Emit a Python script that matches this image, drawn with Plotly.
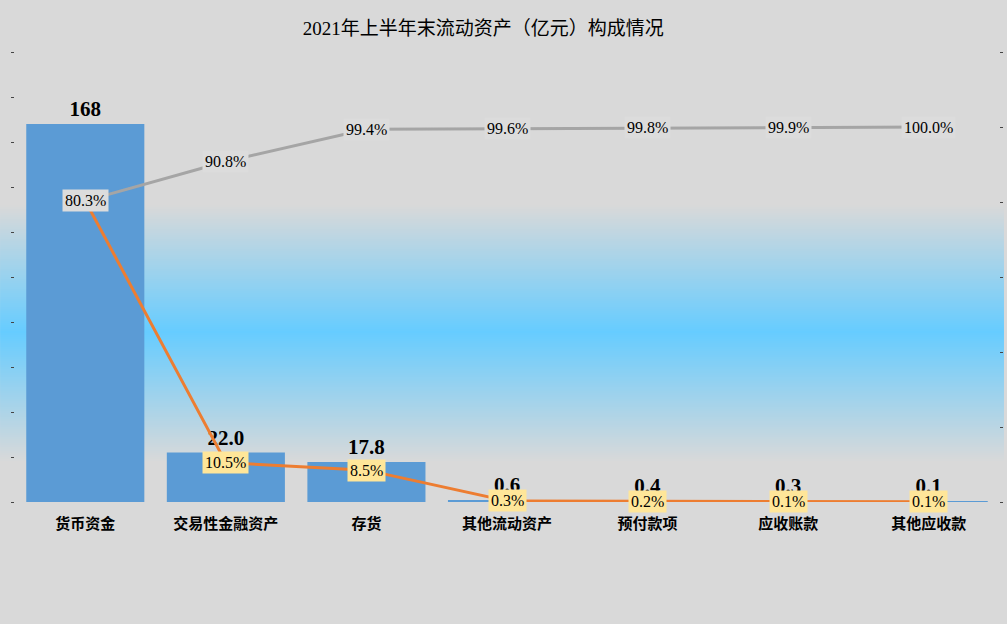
import plotly.graph_objects as go

categories = ["货币资金", "交易性金融资产", "存货", "其他流动资产", "预付款项", "应收账款", "其他应收款"]
amounts = [168, 22.0, 17.8, 0.6, 0.4, 0.3, 0.1]
share_pct = [80.3, 10.5, 8.5, 0.3, 0.2, 0.1, 0.1]
cum_pct = [80.3, 90.8, 99.4, 99.6, 99.8, 99.9, 100.0]
amount_labels = ["168", "22.0", "17.8", "0.6", "0.4", "0.3", "0.1"]

title_text = "2021年上半年末流动资产（亿元）构成情况"

W, H = 1007, 624
ML, MR, MT, MB = 15, 5, 52, 122
PH = H - MT - MB
PW = W - ML - MR

fig = go.Figure()

fig.add_trace(go.Bar(
    x=categories, y=amounts, width=0.84,
    marker=dict(color="#5B9BD5", line=dict(width=0)),
    text=amount_labels, textposition="outside", cliponaxis=False,
    textfont=dict(family="Liberation Serif, Noto Sans CJK SC", size=21, color="black", weight="bold"),
    hoverinfo="skip", showlegend=False,
))
fig.add_trace(go.Scatter(
    x=categories, y=share_pct, yaxis="y2", mode="lines",
    line=dict(color="#ED7D31", width=3), hoverinfo="skip", showlegend=False,
))
fig.add_trace(go.Scatter(
    x=categories, y=cum_pct, yaxis="y2", mode="lines",
    line=dict(color="#A5A5A5", width=3), hoverinfo="skip", showlegend=False,
))

annots = []
for i, (c, v) in enumerate(zip(categories, share_pct)):
    if i == 0:
        continue
    annots.append(dict(x=c, y=v, xref="x", yref="y2", text=f"{v:.1f}%", showarrow=False,
                       bgcolor="#FFE699", borderpad=2,
                       font=dict(family="Liberation Serif", size=16, color="black")))
for c, v in zip(categories, cum_pct):
    annots.append(dict(x=c, y=v, xref="x", yref="y2", text=f"{v:.1f}%", showarrow=False,
                       bgcolor="#DCDCDC", borderpad=2,
                       font=dict(family="Liberation Serif", size=16, color="black")))

# background gradient band (full width)
shapes = []
top_px, peak_px, bot_px = 205, 332, 462
gray = (217, 217, 217)
blue = (102, 204, 255)
step = 2
y = top_px
while y < bot_px:
    mid = y + step / 2
    if mid <= peak_px:
        t = (mid - top_px) / (peak_px - top_px)
    else:
        t = (bot_px - mid) / (bot_px - peak_px)
    t = max(0.0, min(1.0, t))
    col = tuple(round(g + (b - g) * t) for g, b in zip(gray, blue))
    shapes.append(dict(type="rect", xref="paper", yref="paper",
                       x0=-ML / PW, x1=1 + MR / PW,
                       y0=(H - MB - (y + step)) / PH, y1=(H - MB - y) / PH,
                       fillcolor=f"rgb{col}", line=dict(width=0), layer="below"))
    y += step

fig.update_layout(
    width=W, height=H,
    margin=dict(l=ML, r=MR, t=MT, b=MB),
    paper_bgcolor="#D9D9D9", plot_bgcolor="rgba(0,0,0,0)",
    title=dict(text=title_text, x=0.48, xref="container", y=1 - 28 / H, yref="container",
               xanchor="center", yanchor="middle",
               font=dict(family="Liberation Serif, Noto Sans CJK SC", size=19, color="black")),
    xaxis=dict(showgrid=False, zeroline=False, showline=False, ticks="",
               tickfont=dict(family="Noto Sans CJK SC", size=15, color="black", weight="bold"),
               ticklabelstandoff=11),
    yaxis=dict(range=[0, 200], dtick=20, showgrid=False, zeroline=False, showticklabels=False,
               ticks="outside", ticklen=3, tickcolor="#444", showline=False),
    yaxis2=dict(range=[0, 120], dtick=20, overlaying="y", side="right", showgrid=False,
                zeroline=False, showticklabels=False, ticks="outside", ticklen=3,
                tickcolor="#444", showline=False),
    annotations=annots, shapes=shapes, bargap=0.16,
)

fig.write_html("out.html")
